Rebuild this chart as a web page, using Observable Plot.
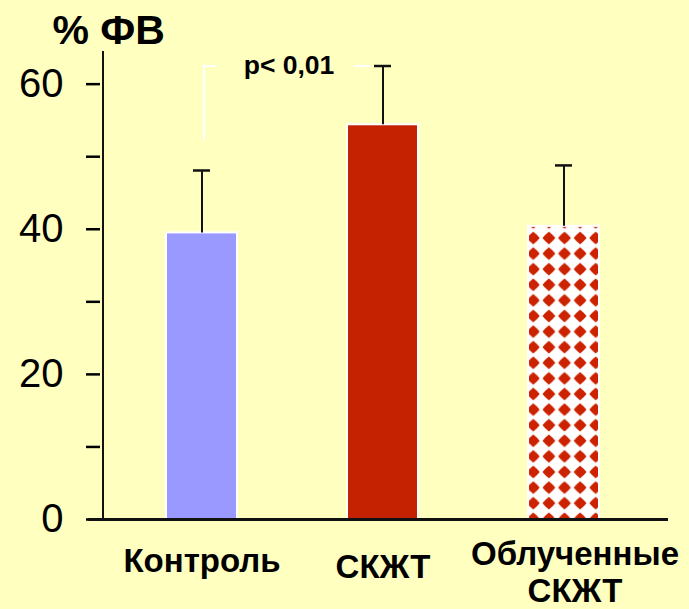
<!DOCTYPE html>
<html>
<head>
<meta charset="utf-8">
<script src="https://cdn.jsdelivr.net/npm/d3@7"></script>
<script src="https://cdn.jsdelivr.net/npm/@observablehq/plot@0.6"></script>
<style>
  html, body { margin: 0; padding: 0; background: #ffffc0; }
  #chart svg { display: block; }
</style>
</head>
<body>
<div id="chart"></div>
<script>
// ---- data ----
const categories = ["Контроль", "СКЖТ", "Облученные СКЖТ"];
const tickLabels = ["Контроль", "СКЖТ", "Облученные\nСКЖТ"];
const means = [39.5, 54.4, 40.4];
const errors = [8.6, 8.1, 8.4];
const barFills = ["#9999ff", "#c42200", "url(#diamonds)"];
const yTicks = [0, 10, 20, 30, 40, 50, 60];
const yLabel = "% ФВ";
const pText = "p< 0,01";

const data = categories.map((c, i) => ({cat: c, v: means[i], top: means[i] + errors[i], fill: barFills[i]}));

const font = "'Liberation Sans', Arial, sans-serif";
const labelDy = [41, 46.5, 52];
const labelDx = [0, 0, 11];

const plot = Plot.plot({
  width: 689,
  height: 609,
  marginLeft: 103,
  marginRight: 21,
  marginTop: 51,
  marginBottom: 90,
  style: {background: "#ffffc0", fontFamily: font, color: "#000"},
  x: {domain: categories, paddingInner: 0.609, paddingOuter: 0.359, align: 0.48, axis: null},
  y: {domain: [0, 64.5], axis: null},
  color: {type: "identity"},
  marks: [
    // y axis ticks and labels
    Plot.axisY({ticks: yTicks, tickSize: 14, dx: -3, tickPadding: 23, strokeWidth: 2.5,
      tickFormat: d => d % 20 === 0 ? String(d) : "", fontSize: 40, fontWeight: "normal", label: null}),
    // bars
    Plot.barY(data, {x: "cat", y: "v", fill: "fill", stroke: "white", strokeWidth: 2}),
    // error bars
    Plot.ruleX(data, {x: "cat", y1: "v", y2: "top", stroke: "#111", strokeWidth: 2}),
    Plot.tickY(data, {x: "cat", y: "top", stroke: "#111", strokeWidth: 2.5, insetLeft: 27, insetRight: 27}),
    // significance bracket
    Plot.ruleX([categories[0]], {x: d => d, dx: 2, y1: 52.2, y2: data[1].top, stroke: "white", strokeWidth: 2}),
    Plot.tickY([categories[0]], {x: d => d, y: data[1].top, stroke: "white", strokeWidth: 2, insetLeft: 36.5, insetRight: 20.5}),
    Plot.tickY([categories[1]], {x: d => d, y: data[1].top, stroke: "white", strokeWidth: 2, insetLeft: 7, insetRight: 48}),
    Plot.text([pText], {x: () => categories[0], y: data[1].top, dx: 87, text: d => d, fontSize: 26.5, fontWeight: "bold", fill: "#000"}),
    // axes lines
    Plot.ruleY([0], {stroke: "#111", strokeWidth: 3, insetLeft: -15}),
    (index, scales, values, dims) => {
      const l = d3.create("svg:line")
        .attr("x1", dims.marginLeft).attr("x2", dims.marginLeft)
        .attr("y1", scales.y(64.5)).attr("y2", scales.y(0))
        .attr("stroke", "#111").attr("stroke-width", 2);
      return l.node();
    },
    // y label
    Plot.text([yLabel], {frameAnchor: "top-left", dx: -51, dy: -21, text: d => d, textAnchor: "start",
      lineAnchor: "middle", fontSize: 41, fontWeight: "bold", fill: "#000"}),
    // x tick labels
    ...categories.map((c, i) => Plot.text([c], {x: d => d, frameAnchor: "bottom", dx: labelDx[i], dy: labelDy[i],
      text: () => tickLabels[i], lineAnchor: "middle", lineHeight: 1.12, fontSize: 33, fontWeight: "bold", fill: "#000"}))
  ]
});

// diamond pattern for the irradiated bar
const defs = d3.select(plot).insert("defs", ":first-child");
const pat = defs.append("pattern").attr("id", "diamonds").attr("patternUnits", "userSpaceOnUse")
  .attr("x", 525.5).attr("y", 230.2).attr("width", 15.6).attr("height", 15.6);
pat.append("rect").attr("width", 15.6).attr("height", 15.6).attr("fill", "white");
const c = 7.8, r = 6.4, k = 3.6;
pat.append("path")
  .attr("d", `M${c - r},${c} Q${c - k},${c - k} ${c},${c - r} Q${c + k},${c - k} ${c + r},${c} Q${c + k},${c + k} ${c},${c + r} Q${c - k},${c + k} ${c - r},${c} Z`)
  .attr("fill", "#cc2200");

document.getElementById("chart").appendChild(plot);
</script>
</body>
</html>
